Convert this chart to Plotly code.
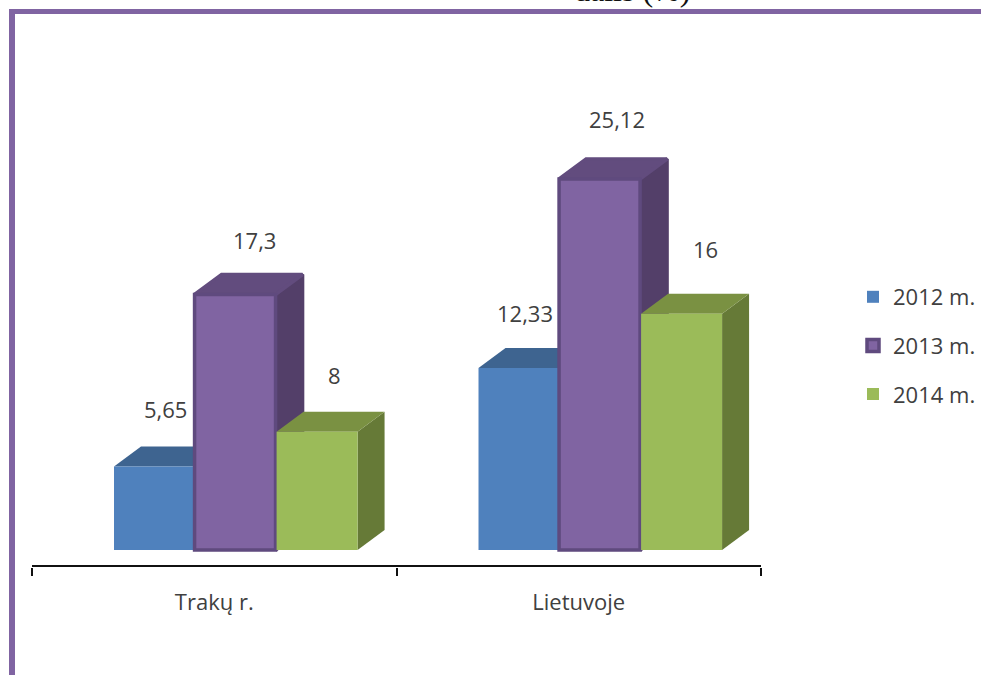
import plotly.graph_objects as go

categories = ["Trakų r.", "Lietuvoje"]
series_names = ["2012 m.", "2013 m.", "2014 m."]
values_2012 = [5.65, 12.33]
values_2013 = [17.3, 25.12]
values_2014 = [8, 16]
labels_2012 = ["5,65", "12,33"]
labels_2013 = ["17,3", "25,12"]
labels_2014 = ["8", "16"]

W, H = 981, 675
L, R, T, B = 32, 220, 20, 109
PX_X = (W - L - R) / 2.0           # px per category
PX_Y = 14.77                       # px per value unit
Y0_PX = 550                        # value 0 position
plot_bottom = H - B
y_min = -(plot_bottom - Y0_PX) / PX_Y
y_max = (Y0_PX - T) / PX_Y
DX = 27 / PX_X
DY = 20 / PX_Y
BAR_W = 81 / PX_X

xs = [0, 1]
styles = [
    dict(vals=values_2012, labs=labels_2012, off=-0.275, front="#4F81BD", top="#3E6490", side="#3A5F8B",
         line=None, edge=0, xshift=[11, 6], yshift=[58, 55]),
    dict(vals=values_2013, labs=labels_2013, off=-0.054, front="#8064A2", top="#624C7E", side="#533F69",
         line="#5F4A7E", edge=3.5, xshift=[19, 17], yshift=[54, 60]),
    dict(vals=values_2014, labs=labels_2014, off=0.171, front="#9BBB59", top="#7A9142", side="#667A37",
         line=None, edge=0, xshift=[17, 24], yshift=[57, 65]),
]

fig = go.Figure()
annotations = []
for i, (name, s) in enumerate(zip(series_names, styles)):
    z = 2 * i + 1
    for cx, v in zip(xs, s["vals"]):
        x0 = cx + s["off"]
        x1 = x0 + BAR_W
        fig.add_trace(go.Scatter(x=[x1, x1 + DX, x1 + DX, x1, x1], y=[0, DY, v + DY, v, 0], mode="lines",
                                 fill="toself", fillcolor=s["side"], line=dict(width=s["edge"], color=s["side"]),
                                 showlegend=False, hoverinfo="skip", zorder=z))
        fig.add_trace(go.Scatter(x=[x0, x0 + DX, x1 + DX, x1, x0], y=[v, v + DY, v + DY, v, v], mode="lines",
                                 fill="toself", fillcolor=s["top"], line=dict(width=s["edge"], color=s["top"]),
                                 showlegend=False, hoverinfo="skip", zorder=z))
    marker = dict(color=s["front"])
    if s["line"]:
        marker["line"] = dict(color=s["line"], width=3.5)
    else:
        marker["line"] = dict(width=0)
    fig.add_trace(go.Bar(x=xs, y=s["vals"], name=name, width=BAR_W, offset=s["off"], marker=marker,
                         legendgroup=name, zorder=z + 1))
    for cx, v, lab, xsh, ysh in zip(xs, s["vals"], s["labs"], s["xshift"], s["yshift"]):
        annotations.append(dict(x=cx + s["off"] + BAR_W / 2, y=v, xref="x", yref="y", text=lab, showarrow=False,
                                xshift=xsh, yshift=ysh, xanchor="center", yanchor="middle",
                                font=dict(family="Open Sans", size=22, color="#404040")))


def px(x):
    return (x - L) / (W - L - R)


def py(y):
    return (H - B - y) / (H - T - B)


annotations.append(dict(x=px(632), y=py(3), xref="paper", yref="paper", text="dalis (%)", showarrow=False,
                        xanchor="center", yanchor="bottom", yshift=-7,
                        font=dict(family="Liberation Serif", size=32, color="#111111")))

shapes = [
    dict(type="rect", xref="paper", yref="paper", x0=px(9), x1=px(981), y0=py(9), y1=py(14),
         fillcolor="#8064A2", line=dict(width=0), layer="below"),
    dict(type="rect", xref="paper", yref="paper", x0=px(9), x1=px(15), y0=py(675), y1=py(9),
         fillcolor="#8064A2", line=dict(width=0), layer="below"),
    dict(type="line", xref="x", yref="paper", x0=-0.5, x1=1.5, y0=0, y1=0,
         line=dict(color="#111111", width=2), layer="above"),
]

fig.update_layout(
    width=W, height=H, autosize=False,
    margin=dict(l=L, r=R, t=T, b=B, pad=0, autoexpand=False),
    paper_bgcolor="white", plot_bgcolor="rgba(0,0,0,0)",
    barmode="overlay", annotations=annotations, shapes=shapes,
    legend=dict(x=px(853), y=py(276), xanchor="left", yanchor="top", tracegroupgap=17,
                font=dict(family="Open Sans", size=22, color="#404040"),
                itemwidth=30, bgcolor="rgba(0,0,0,0)", itemclick=False, itemdoubleclick=False),
    xaxis=dict(range=[-0.5, 1.5], tickmode="array", tickvals=xs, ticktext=categories, ticks="",
               showline=True, linecolor="#111111", linewidth=2, showgrid=False, zeroline=False,
               ticklabelstandoff=16, tickfont=dict(family="Open Sans", size=22, color="#404040"),
               minor=dict(tickmode="array", tickvals=[-0.5, 0.5, 1.5], ticks="outside", ticklen=8,
                          tickwidth=2, tickcolor="#111111", showgrid=False)),
    yaxis=dict(range=[y_min, y_max], showticklabels=False, ticks="", showline=False, showgrid=False, zeroline=False),
)

fig.write_html("out.html", config=dict(displayModeBar=False),
               post_script="document.body.style.margin='0';document.body.style.overflow='hidden';")
